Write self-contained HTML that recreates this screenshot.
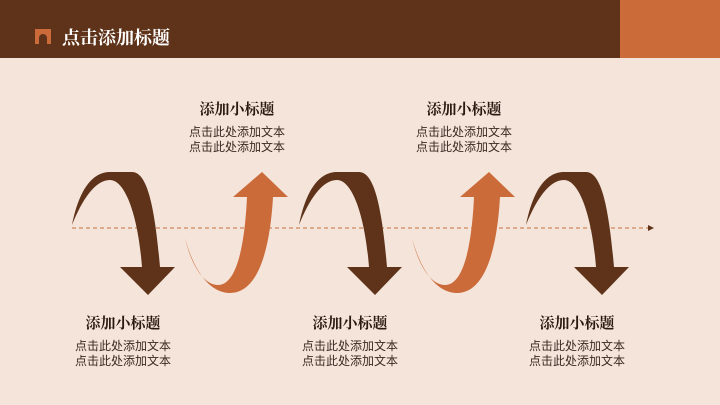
<!DOCTYPE html>
<html><head><meta charset="utf-8"><style>
body{margin:0;width:720px;height:405px;background:#f4e4da;position:relative;overflow:hidden;font-family:"Liberation Serif","Noto Serif CJK SC",serif}
.hd{position:absolute;left:0;top:0;width:720px;height:58px;background:#5e3319}
.or{position:absolute;left:620px;top:0;width:100px;height:58px;background:#cc6b3a}
.t{position:absolute;width:160px;text-align:center;color:#2a1a10}
.t b{display:block;font-size:15px;line-height:18px;margin-bottom:6px}
.t span{display:block;font-size:12px;line-height:15px;font-family:"Liberation Sans","Noto Sans CJK SC",sans-serif;color:#3a2a20}
</style></head><body>
<div class="hd"></div><div class="or"></div>
<svg style="position:absolute;left:35px;top:29px" width="16" height="15"><path d="M0,0H16V15H12V9A4,4 0 0 0 4,9V15H0Z" fill="#cc6b3a"/></svg>
<div style="position:absolute;left:62px;top:24px;color:#fff;font-size:18px;font-weight:bold">点击添加标题</div>
<svg style="position:absolute;left:0;top:0" width="720" height="405">
<defs>
<path id="b" d="M72,225 C80,185 95,172 110,172 L132,172 C148,172 155,210 160,267 L175,267 L148,295 L120,267 L142,267 C138,215 125,180 110,180 C95,180 82,200 72,225 Z" fill="#5e3319"/>
<path id="o" d="M185,238 C192,268 205,285 218,285 C238,285 245,240 247,197 L233,197 L262,172 L288,197 L273,197 C270,250 258,293 230,293 C212,293 195,275 185,238 Z" fill="#cc6b3a"/>
</defs>
<line x1="72" y1="228" x2="648" y2="228" stroke="#c8703f" stroke-width="1" stroke-dasharray="4,3"/>
<path d="M648,225 L654,228 L648,231Z" fill="#5e3319"/>
<use href="#b"/><use href="#b" x="227"/><use href="#b" x="454"/>
<use href="#o"/><use href="#o" x="227"/>
</svg>
<div class="t" style="left:157px;top:101px"><b>添加小标题</b><span>点击此处添加文本</span><span>点击此处添加文本</span></div>
<div class="t" style="left:384px;top:101px"><b>添加小标题</b><span>点击此处添加文本</span><span>点击此处添加文本</span></div>
<div class="t" style="left:43px;top:315px"><b>添加小标题</b><span>点击此处添加文本</span><span>点击此处添加文本</span></div>
<div class="t" style="left:270px;top:315px"><b>添加小标题</b><span>点击此处添加文本</span><span>点击此处添加文本</span></div>
<div class="t" style="left:497px;top:315px"><b>添加小标题</b><span>点击此处添加文本</span><span>点击此处添加文本</span></div>
</body></html>
